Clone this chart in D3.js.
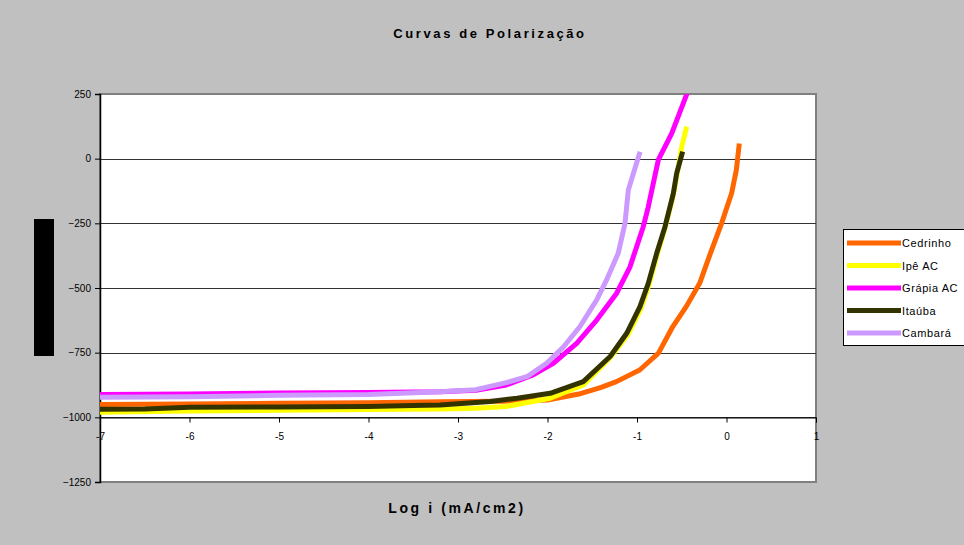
<!DOCTYPE html>
<html lang="pt">
<head>
    <meta charset="UTF-8">
    <title>Curvas de Polarização</title>
    <script src="https://d3js.org/d3.v7.min.js"></script>
    <style>
        body { margin: 0; background: #c0c0c0; }
        svg { display: block; font-family: "Liberation Sans", Arial, sans-serif; }
        .grid line { stroke: #333; stroke-width: 1px; }
        .axis text { font-size: 10px; fill: #000; }
        .axis path, .axis line { stroke: #000; }
        .serie { fill: none; stroke-width: 5px; stroke-linejoin: round; }
    </style>
</head>
<body>
    <svg width="964" height="545"></svg>
    <script>
        // log i (mA/cm2) vs potencial (mV)
        const cedrinho = [[-7,-950],[-6,-948],[-5,-946],[-4,-944],[-3.2,-940],[-2.5,-938],[-2.0,-933],
            [-1.65,-910],[-1.4,-884],[-1.23,-862],[-0.97,-817],[-0.76,-752],[-0.6,-649],[-0.45,-572],
            [-0.3,-482],[-0.18,-366],[-0.055,-250],[0.057,-134],[0.11,-44],[0.143,59]];
        const ipe = [[-7,-980],[-6,-976],[-5,-973],[-4,-970],[-3.2,-968],[-2.8,-965],[-2.46,-958],
            [-1.97,-926],[-1.6,-875],[-1.3,-770],[-1.1,-680],[-0.95,-575],[-0.86,-480],[-0.77,-366],
            [-0.68,-260],[-0.59,-134],[-0.55,-57],[-0.5,46],[-0.445,124]];
        const grapia = [[-7,-912],[-6,-910],[-5,-906],[-4,-904],[-3.2,-901],[-2.8,-895],[-2.46,-875],
            [-2.16,-836],[-1.935,-791],[-1.674,-714],[-1.45,-624],[-1.227,-520],[-1.078,-418],
            [-0.93,-263],[-0.874,-186],[-0.762,-5],[-0.612,98],[-0.43,262]];
        const itauba = [[-7,-969],[-6.5,-968],[-6,-961],[-5,-960],[-4,-958],[-3.5,-954],[-3.2,-952],
            [-2.64,-939],[-2.34,-926],[-1.97,-907],[-1.6,-862],[-1.3,-765],[-1.115,-675],[-0.967,-572],
            [-0.874,-482],[-0.78,-366],[-0.687,-263],[-0.594,-134],[-0.557,-57],[-0.49,27]];
        const cambara = [[-7,-922],[-6,-920],[-5,-915],[-4,-912],[-3.2,-901],[-2.8,-893],[-2.46,-866],
            [-2.23,-843],[-2.01,-791],[-1.82,-727],[-1.637,-649],[-1.45,-546],[-1.34,-469],
            [-1.21,-366],[-1.134,-250],[-1.097,-121],[-0.966,27]];

        const seriesNames = ["Cedrinho", "Ipê AC", "Grápia AC", "Itaúba", "Cambará"];
        const seriesData = [cedrinho, ipe, grapia, itauba, cambara];
        const colors = ["#ff6600", "#ffff00", "#ff00ff", "#333300", "#cc99ff"];

        const xTicks = [-7, -6, -5, -4, -3, -2, -1, 0, 1];
        const yTicks = [250, 0, -250, -500, -750, -1000, -1250];

        const svg = d3.select("svg");
        const plotLeft = 100, plotRight = 816, plotTop = 94, plotBottom = 482;

        const x = d3.scaleLinear().domain([-7, 1]).range([plotLeft, plotRight]);
        const y = d3.scaleLinear().domain([-1250, 250]).range([plotBottom, plotTop]);

        svg.append("rect").attr("width", 964).attr("height", 545).attr("fill", "#c0c0c0");

        // plot area
        svg.append("rect")
            .attr("x", plotLeft).attr("y", plotTop)
            .attr("width", plotRight - plotLeft).attr("height", plotBottom - plotTop)
            .attr("fill", "#fff").attr("stroke", "#808080").attr("stroke-width", 2);

        svg.append("g").attr("class", "grid")
            .selectAll("line")
            .data(yTicks.filter(d => d !== 250 && d !== -1250))
            .enter().append("line")
            .attr("x1", plotLeft).attr("x2", plotRight)
            .attr("y1", d => Math.round(y(d)) + 0.5).attr("y2", d => Math.round(y(d)) + 0.5);

        svg.append("defs").append("clipPath").attr("id", "clip")
            .append("rect").attr("x", plotLeft).attr("y", plotTop)
            .attr("width", plotRight - plotLeft).attr("height", plotBottom - plotTop);

        // y axis
        svg.append("g").attr("class", "axis")
            .attr("transform", `translate(${plotLeft},0)`)
            .call(d3.axisLeft(y).tickValues(yTicks).tickSize(5).tickPadding(4).tickFormat(d3.format("d")))
            .call(g => g.select(".domain").attr("stroke-width", 1.5));

        // x axis at -1000
        const xAxis = svg.append("g").attr("class", "axis")
            .attr("transform", `translate(0,${Math.round(y(-1000)) + 0.5})`)
            .call(d3.axisBottom(x).tickValues(xTicks).tickSize(5).tickPadding(10).tickFormat(d => String(d)));
        xAxis.select(".domain").attr("stroke", "#333");

        const line = d3.line().x(d => x(d[0])).y(d => y(d[1]));

        svg.append("g").attr("clip-path", "url(#clip)")
            .selectAll("path")
            .data(seriesData)
            .enter().append("path")
            .attr("class", "serie")
            .attr("stroke", (d, i) => colors[i])
            .attr("d", line);

        // titles
        svg.append("text")
            .attr("x", 490).attr("y", 38)
            .attr("text-anchor", "middle")
            .style("font-size", "13px").style("font-weight", "bold").style("letter-spacing", "2.6px")
            .text("Curvas de Polarização");

        svg.append("text")
            .attr("x", 457).attr("y", 513)
            .attr("text-anchor", "middle")
            .style("font-size", "14px").style("font-weight", "bold").style("letter-spacing", "2.6px")
            .text("Log i (mA/cm2)");

        // y title placeholder (black block)
        svg.append("rect")
            .attr("x", 34).attr("y", 219).attr("width", 20).attr("height", 137)
            .attr("fill", "#000");

        // legend
        const legend = svg.append("g");
        legend.append("rect")
            .attr("x", 843.5).attr("y", 229.5).attr("width", 130).attr("height", 116)
            .attr("fill", "#fff").attr("stroke", "#000");

        const item = legend.selectAll(".item")
            .data(seriesNames)
            .enter().append("g")
            .attr("transform", (d, i) => `translate(0,${243 + i * 22.5})`);

        item.append("line")
            .attr("x1", 847).attr("x2", 901)
            .attr("stroke", (d, i) => colors[i]).attr("stroke-width", 5);

        item.append("text")
            .attr("x", 902).attr("dy", "0.38em")
            .style("font-size", "11px").style("letter-spacing", "0.6px")
            .text(d => d);
    </script>
</body>
</html>
